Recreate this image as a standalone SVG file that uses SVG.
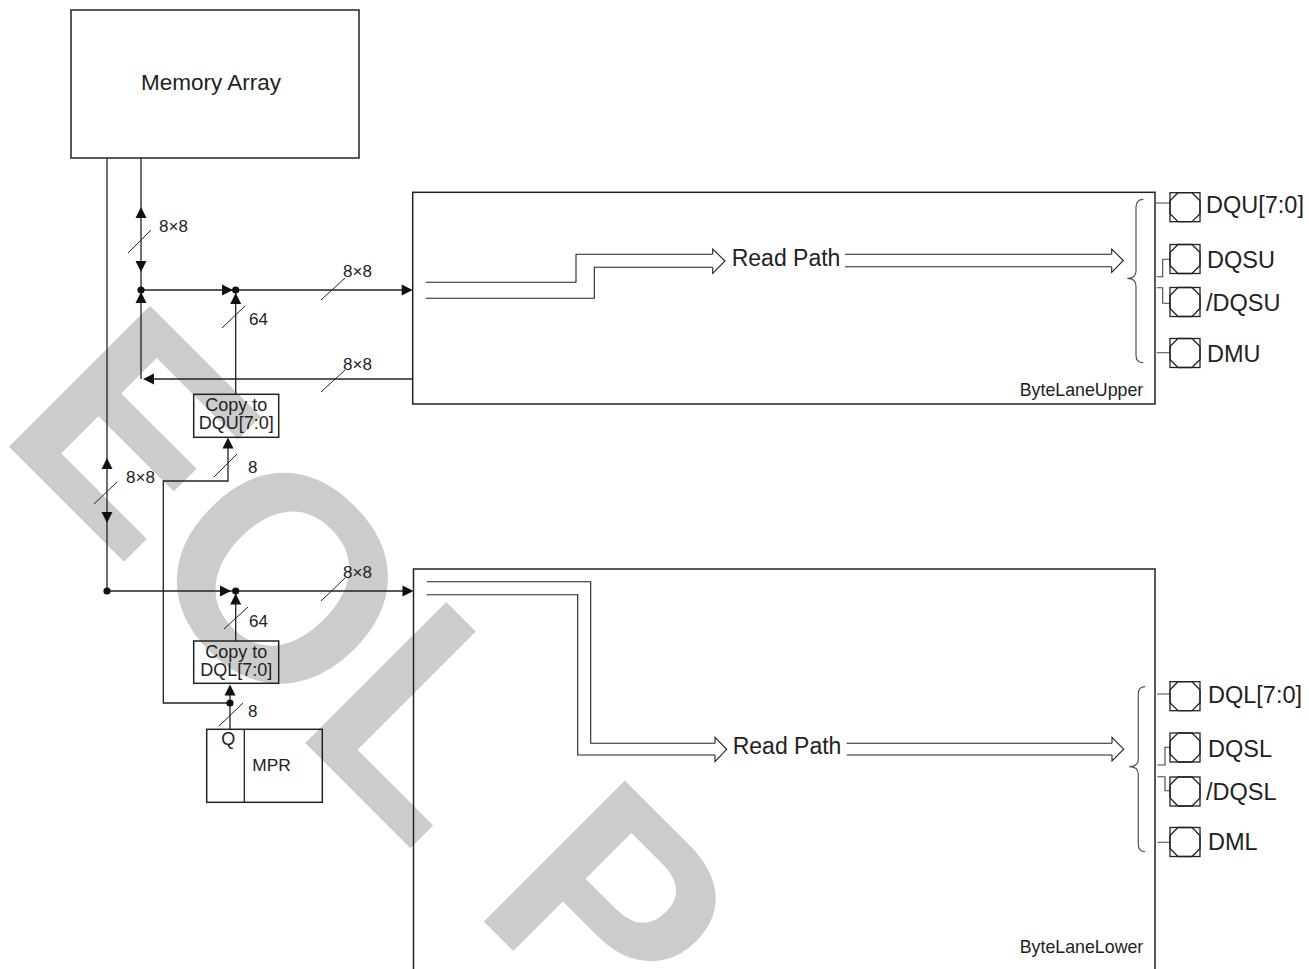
<svg xmlns="http://www.w3.org/2000/svg" xmlns:xlink="http://www.w3.org/1999/xlink" width="1309" height="969" viewBox="0 0 1309 969">
<style>
.box{fill:none;stroke:#222;stroke-width:1.5}
.ln{fill:none;stroke:#222;stroke-width:1.3}
.sl{fill:none;stroke:#222;stroke-width:1}
.rp{fill:#fff;stroke:#222;stroke-width:1.1}
.rpl{fill:none;stroke:#222;stroke-width:1.1}
.br{fill:none;stroke:#555;stroke-width:1.2}
.pl{fill:none;stroke:#444;stroke-width:1.1}
.t{font-family:"Liberation Sans",Arial,sans-serif;fill:#222}
.lab{font-size:17px}
.pin{font-size:23.5px}
.wm{font-family:"Liberation Sans",Arial,sans-serif;font-weight:bold;font-size:290px;fill:#cccccc}
</style>
<defs>
<path id="ah" d="M0,0 L-11,-5.5 L-11,5.5 Z" fill="#111"/>
<g id="pinshape">
<rect x="0" y="0" width="30" height="29" fill="#fff" stroke="#222" stroke-width="1.3"/>
<polygon points="8,0 22,0 30,8 30,21 22,29 8,29 0,21 0,8" fill="none" stroke="#222" stroke-width="1.3"/>
</g>
</defs>
<rect width="1309" height="969" fill="#fff"/>
<g id="watermark">
<text class="wm" transform="translate(-4.8,433) rotate(45)">EOL P</text>
</g>

<g id="memory-array">
<rect class="box" x="71" y="10" width="288" height="148"/>
<text class="t" x="211" y="89.5" font-size="22.5" text-anchor="middle">Memory Array</text>
</g>

<g id="byte-lane-upper">
<rect class="box" x="412.7" y="192.3" width="742.3" height="211.7"/>
<path class="rpl" d="M425.7,282.3 H576 V254.3 H712.7 M425.7,298.3 H594.3 V267.3 H712.7"/>
<path class="rp" d="M712.7,254.3 V249 L725,261 L712.7,273.3 V267.3"/>
<text class="t" x="731.7" y="265.7" font-size="23">Read Path</text>
<path class="rpl" d="M845,254.3 H1111.7 M845,266.7 H1111.7"/>
<path class="rp" d="M1111.7,254.3 V249 L1123.3,260.5 L1111.7,272.5 V266.7"/>
<path class="br" d="M1143.3,199.3 Q1136,199.5 1136,207 V271 Q1136,278.3 1127.3,278.3 Q1136,278.3 1136,286 V355 Q1136,362.7 1143.3,362.7"/>
<path class="pl" d="M1156,203 H1170 M1156.7,276.7 H1162.7 V259.3 H1170 M1156.7,287.7 H1162.7 V303.3 H1170 M1156.7,352.7 H1170"/>
<use xlink:href="#pinshape" x="1170" y="192.7"/>
<use xlink:href="#pinshape" x="1170" y="244.5"/>
<use xlink:href="#pinshape" x="1170" y="287.5"/>
<use xlink:href="#pinshape" x="1170" y="338.5"/>
<text class="t pin" x="1206" y="213.3">DQU[7:0]</text>
<text class="t pin" x="1207" y="268.3">DQSU</text>
<text class="t pin" x="1206" y="311">/DQSU</text>
<text class="t pin" x="1207" y="361.7">DMU</text>
<text class="t" x="1143.3" y="395.7" font-size="17.8" text-anchor="end">ByteLaneUpper</text>
</g>

<g id="byte-lane-lower">
<rect class="box" x="413.5" y="569" width="741.5" height="410"/>
<path class="rpl" d="M426.7,581.7 H590.7 V743.3 H715 M426.7,594.7 H577.7 V755 H715"/>
<path class="rp" d="M715,743.3 V737.3 L726.7,749.3 L715,761.7 V755"/>
<text class="t" x="732.7" y="754" font-size="23">Read Path</text>
<path class="rpl" d="M846.7,743.3 H1112 M846.7,755 H1112"/>
<path class="rp" d="M1112,743.3 V737.3 L1123.7,749.2 L1112,761 V755"/>
<path class="br" d="M1145,686.7 Q1138.3,687 1138.3,694 V759 Q1138.3,766.7 1129.3,766.7 Q1138.3,766.7 1138.3,774 V844 Q1138.3,851.7 1145,851.7"/>
<path class="pl" d="M1157,694 H1170 M1157.3,765 H1165 V747.3 H1170 M1157.3,776.7 H1165 V790.7 H1170 M1157.3,842.3 H1170"/>
<use xlink:href="#pinshape" x="1170" y="681.7"/>
<use xlink:href="#pinshape" x="1170" y="733"/>
<use xlink:href="#pinshape" x="1170" y="777"/>
<use xlink:href="#pinshape" x="1170" y="827.5"/>
<text class="t pin" x="1208" y="703.3">DQL[7:0]</text>
<text class="t pin" x="1208" y="757.3">DQSL</text>
<text class="t pin" x="1206" y="800">/DQSL</text>
<text class="t pin" x="1208" y="850">DML</text>
<text class="t" x="1143.3" y="953" font-size="17.8" text-anchor="end">ByteLaneLower</text>
</g>

<g id="copy-dqu">
<rect class="box" x="193.7" y="394.3" width="85" height="43"/>
<text class="t" x="236.2" y="411" font-size="18" text-anchor="middle">Copy to</text>
<text class="t" x="236.2" y="429" font-size="18" text-anchor="middle">DQU[7:0]</text>
</g>

<g id="copy-dql">
<rect class="box" x="193.7" y="641" width="85" height="42.3"/>
<text class="t" x="236.2" y="658.3" font-size="18" text-anchor="middle">Copy to</text>
<text class="t" x="236.2" y="676" font-size="18" text-anchor="middle">DQL[7:0]</text>
</g>

<g id="mpr">
<rect class="box" x="206.7" y="729.3" width="115.6" height="73"/>
<line class="ln" x1="244.3" y1="729.3" x2="244.3" y2="802.3"/>
<text class="t" x="228.3" y="745" font-size="18" text-anchor="middle">Q</text>
<text class="t" x="252.3" y="770.7" font-size="17.3">MPR</text>
</g>

<g id="connectors">
<path class="ln" d="M107,158 V591 H405"/>
<path class="ln" d="M141,158 V379"/>
<path class="ln" d="M141,290 H405"/>
<path class="ln" d="M235.7,290 V394.3"/>
<path class="ln" d="M412.7,379 H150"/>
<path class="ln" d="M228,445 V481 H163.3 V703 H230"/>
<path class="ln" d="M235.7,591 V641"/>
<path class="ln" d="M230,692 V729.3"/>

<use xlink:href="#ah" transform="translate(141,207) rotate(-90)"/>
<use xlink:href="#ah" transform="translate(141,272) rotate(90)"/>
<use xlink:href="#ah" transform="translate(141,292) rotate(-90)"/>
<use xlink:href="#ah" transform="translate(233,290)"/>
<use xlink:href="#ah" transform="translate(412.7,290)"/>
<use xlink:href="#ah" transform="translate(235.7,293) rotate(-90)"/>
<use xlink:href="#ah" transform="translate(143,379) rotate(180)"/>
<use xlink:href="#ah" transform="translate(228,437.5) rotate(-90)"/>
<use xlink:href="#ah" transform="translate(107,458) rotate(-90)"/>
<use xlink:href="#ah" transform="translate(107,523) rotate(90)"/>
<use xlink:href="#ah" transform="translate(231,591)"/>
<use xlink:href="#ah" transform="translate(413.5,591)"/>
<use xlink:href="#ah" transform="translate(235.7,593.5) rotate(-90)"/>
<use xlink:href="#ah" transform="translate(230,684.5) rotate(-90)"/>

<circle cx="141" cy="290" r="3.6" fill="#111"/>
<circle cx="235.7" cy="290" r="3.6" fill="#111"/>
<circle cx="107" cy="591" r="3.6" fill="#111"/>
<circle cx="235.7" cy="591" r="3.6" fill="#111"/>
<circle cx="230" cy="703" r="3.6" fill="#111"/>

<path class="sl" d="M128,253 L151,230 M321,300 L345,278 M222,328 L245,306 M321,392 L345,370 M214,477 L237,454 M94,504 L117,482 M321,601 L345,578 M224,629 L248,607 M219,726 L243,703"/>
<text class="t lab" x="159" y="232">8×8</text>
<text class="t lab" x="343" y="277">8×8</text>
<text class="t lab" x="249" y="325">64</text>
<text class="t lab" x="343" y="370">8×8</text>
<text class="t lab" x="248" y="473">8</text>
<text class="t lab" x="126" y="483">8×8</text>
<text class="t lab" x="343" y="578">8×8</text>
<text class="t lab" x="249" y="627">64</text>
<text class="t lab" x="248" y="717">8</text>
</g>
</svg>
